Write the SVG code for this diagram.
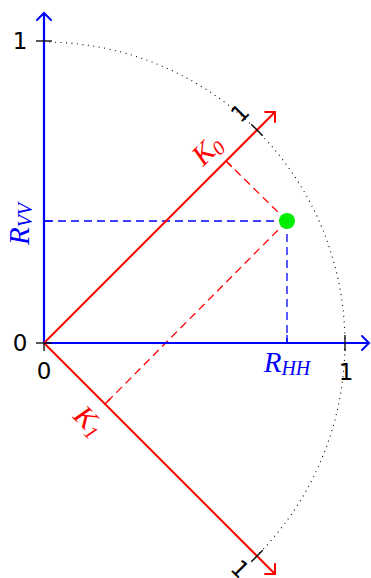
<svg xmlns="http://www.w3.org/2000/svg" width="371" height="578" viewBox="0 0 371 578">
<style>
.num{font-family:"DejaVu Sans",sans-serif;font-size:23px;fill:#000;text-anchor:middle}
.math{font-family:"Liberation Serif",serif;font-style:italic;text-anchor:middle;font-size:29px}
.sub{font-size:20px}
.tick{stroke:#000;stroke-width:1.3;fill:none}
.blue{stroke:#0000ff;fill:none}
.red{stroke:#ff0000;fill:none}
.dash{stroke-width:1.3;stroke-dasharray:8 5}
</style>
<defs>
<marker id="arB" markerUnits="userSpaceOnUse" markerWidth="20" markerHeight="20" refX="10" refY="10" orient="auto" overflow="visible">
<path d="M3 3 Q8 8 10 10 Q8 12 3 17" stroke="#0000ff" stroke-width="2" fill="none" stroke-linecap="round"/>
</marker>
<marker id="arR" markerUnits="userSpaceOnUse" markerWidth="20" markerHeight="20" refX="10" refY="10" orient="auto" overflow="visible">
<path d="M3 3 Q8 8 10 10 Q8 12 3 17" stroke="#ff0000" stroke-width="2" fill="none" stroke-linecap="round"/>
</marker>
</defs>
<g id="arc">
<path d="M44 42 A301 301 0 0 1 256.8 555.8" stroke="#000" stroke-width="1.1" fill="none" stroke-dasharray="1 4.5"/>
</g>
<g id="connectors">
<line class="blue dash" x1="287" y1="221" x2="44" y2="221"/>
<line class="blue dash" x1="287" y1="221" x2="287" y2="343"/>
<line class="red dash" x1="287" y1="221" x2="226" y2="161"/>
<line class="red dash" x1="287" y1="221" x2="105" y2="404"/>
</g>
<g id="axes">
<line class="blue" stroke-width="2.2" x1="44" y1="343" x2="44" y2="13" marker-end="url(#arB)"/>
<line class="blue" stroke-width="2.2" x1="44" y1="343" x2="369" y2="343" marker-end="url(#arB)"/>
<line class="red" stroke-width="2" x1="44" y1="343" x2="275" y2="112" marker-end="url(#arR)"/>
<line class="red" stroke-width="2" x1="44" y1="343" x2="275" y2="574" marker-end="url(#arR)"/>
</g>
<g id="ticks">
<line class="tick" x1="36" y1="41" x2="52" y2="41"/>
<line class="tick" x1="36" y1="343" x2="52" y2="343"/>
<line class="tick" x1="44" y1="343" x2="44" y2="351"/>
<line class="tick" x1="345" y1="335" x2="345" y2="351"/>
<line class="tick" x1="251.3" y1="124.3" x2="262.7" y2="135.7"/>
<line class="tick" x1="251.3" y1="561.7" x2="262.7" y2="550.3"/>
<line class="blue" stroke-width="1.3" x1="44" y1="221" x2="52" y2="221"/>
<line class="blue" stroke-width="1.3" x1="287" y1="343" x2="287" y2="335"/>
<line class="red" stroke-width="1.3" x1="226" y1="161" x2="231.7" y2="166.7"/>
<line class="red" stroke-width="1.3" x1="105" y1="404" x2="110.7" y2="398.3"/>
</g>
<g id="labels">
<text class="num" x="20" y="49">1</text>
<text class="num" x="20" y="351">0</text>
<text class="num" x="44" y="379">0</text>
<text class="num" x="346" y="380">1</text>
<text class="num" transform="translate(240,113) rotate(-45)" y="8">1</text>
<text class="num" transform="translate(240,569) rotate(45)" y="8">1</text>
<text class="math" fill="#0000ff" x="287" y="372">R<tspan class="sub" dy="3">HH</tspan></text>
<text class="math" fill="#0000ff" transform="translate(21,224) rotate(-90)" y="8">R<tspan class="sub" dy="3">VV</tspan></text>
<text class="math" fill="#ff0000" transform="translate(208,151) rotate(-45)" y="8">K<tspan class="sub" dy="4">0</tspan></text>
<text class="math" fill="#ff0000" transform="translate(88,422) rotate(45)" y="8">K<tspan class="sub" dy="4">1</tspan></text>
</g>
<g id="point">
<circle cx="287" cy="221" r="8" fill="#00ee00"/>
</g>
</svg>
